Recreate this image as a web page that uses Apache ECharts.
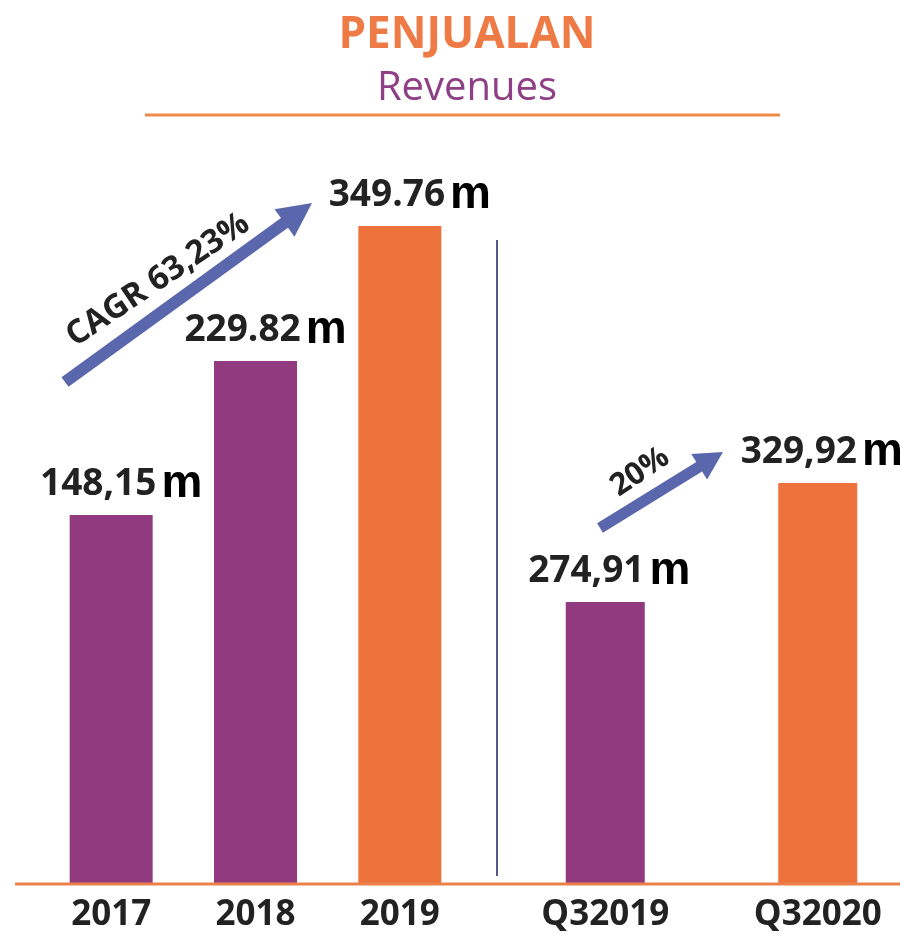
<!DOCTYPE html>
<html>
<head>
<meta charset="utf-8">
<script src="https://cdn.jsdelivr.net/npm/echarts@6/dist/echarts.min.js"></script>
<style>
  html, body { margin: 0; padding: 0; background: #fff; }
  #chart { width: 900px; height: 937px; }
</style>
</head>
<body>
<div id="chart"></div>
<script>
// yearly revenue (left group) and Q3 comparison (right group)
const yearCats = ['2017', '2018', '2019'];
const yearLabels = ['148,15', '229.82', '349.76'];
// bar heights as drawn in the picture (bars are not to scale with labels)
const yearHeights = [369, 523, 658];
const yearColors = ['#913a80', '#913a80', '#ee723c'];

const q3Cats = ['Q32019', 'Q32020'];
const q3Labels = ['274,91', '329,92'];
const q3Heights = [282, 401];
const q3Colors = ['#913a80', '#ee723c'];

const growthNotes = ['CAGR 63,23%', '20%'];

const ORANGE = '#ec8049';
const ARROW = '#5b67ad';

function arrowPoints(x1, y1, x2, y2, w, hw, hl) {
  const dx = x2 - x1, dy = y2 - y1;
  const len = Math.sqrt(dx * dx + dy * dy);
  const ux = dx / len, uy = dy / len;
  const px = -uy, py = ux;
  const bx = x2 - ux * hl, by = y2 - uy * hl;
  return [
    [x1 + px * w / 2, y1 + py * w / 2],
    [bx + px * w / 2, by + py * w / 2],
    [bx + px * hw / 2, by + py * hw / 2],
    [x2, y2],
    [bx - px * hw / 2, by - py * hw / 2],
    [bx - px * w / 2, by - py * w / 2],
    [x1 - px * w / 2, y1 - py * w / 2]
  ];
}

function labelFor(labels, dx) {
  return {
    show: true,
    position: 'top',
    distance: 8,
    offset: [dx, 0],
    formatter: p => '{v|' + labels[p.dataIndex] + '}{m|m}',
    rich: {
      v: { fontFamily: 'Open Sans', fontWeight: 'bold', fontSize: 37, color: '#222' },
      m: { fontFamily: 'Liberation Sans', fontWeight: 'bold', fontSize: 46, color: '#000', padding: [0, 0, 0, 5] }
    }
  };
}

const axisLabelStyle = {
  fontFamily: 'Open Sans',
  fontWeight: 'bold',
  fontSize: 35,
  color: '#222',
  margin: 14
};

const chart = echarts.init(document.getElementById('chart'));

chart.setOption({
  backgroundColor: '#fff',
  animation: false,
  title: {
    text: 'PENJUALAN',
    subtext: 'Revenues',
    left: 462,
    top: 8,
    textAlign: 'center',
    itemGap: 12,
    textStyle: { fontFamily: 'Open Sans', fontWeight: 'bold', fontSize: 44, color: '#ee7a45' },
    subtextStyle: { fontFamily: 'Open Sans', fontWeight: 'normal', fontSize: 40, color: '#8e3f86' }
  },
  grid: [
    { left: 39, width: 433, top: 100, bottom: 53, outerBoundsMode: 'none' },
    { left: 499, width: 425, top: 100, bottom: 53, outerBoundsMode: 'none' }
  ],
  xAxis: [
    {
      gridIndex: 0, type: 'category', data: yearCats,
      axisLine: { show: false },
      axisTick: { show: false },
      axisLabel: axisLabelStyle
    },
    {
      gridIndex: 1, type: 'category', data: q3Cats,
      axisLine: { show: false },
      axisTick: { show: false },
      axisLabel: axisLabelStyle
    }
  ],
  yAxis: [
    { gridIndex: 0, type: 'value', min: 0, max: 784, show: false },
    { gridIndex: 1, type: 'value', min: 0, max: 784, show: false }
  ],
  series: [
    {
      type: 'bar', xAxisIndex: 0, yAxisIndex: 0, barWidth: 83,
      data: yearHeights.map((v, i) => ({ value: v, itemStyle: { color: yearColors[i] } })),
      label: labelFor(yearLabels, 10)
    },
    {
      type: 'bar', xAxisIndex: 1, yAxisIndex: 1, barWidth: 79,
      data: q3Heights.map((v, i) => ({ value: v, itemStyle: { color: q3Colors[i] } })),
      label: labelFor(q3Labels, 4)
    }
  ],
  graphic: [
    // underline of the title
    { type: 'line', shape: { x1: 145, y1: 115, x2: 780, y2: 115 }, style: { stroke: '#f08a4b', lineWidth: 3 } },
    // shared baseline under both groups
    { type: 'line', z: 10, shape: { x1: 15, y1: 884, x2: 900, y2: 884 }, style: { stroke: ORANGE, lineWidth: 3 } },
    // divider between yearly and quarterly groups
    { type: 'line', shape: { x1: 497, y1: 240, x2: 497, y2: 876 }, style: { stroke: '#55598a', lineWidth: 2 } },
    // growth arrows
    { type: 'polygon', shape: { points: arrowPoints(65, 382, 312, 203, 12, 34, 34) }, style: { fill: ARROW } },
    { type: 'polygon', shape: { points: arrowPoints(600, 528, 723, 452, 11, 30, 28) }, style: { fill: ARROW } },
    {
      type: 'text', x: 158, y: 280, rotation: 34 * Math.PI / 180,
      style: { text: growthNotes[0], align: 'center', verticalAlign: 'middle', fontFamily: 'Open Sans', fontWeight: 'bold', fontSize: 33, fill: '#222' }
    },
    {
      type: 'text', x: 640, y: 472, rotation: 34 * Math.PI / 180,
      style: { text: growthNotes[1], align: 'center', verticalAlign: 'middle', fontFamily: 'Open Sans', fontWeight: 'bold', fontSize: 31, fill: '#222' }
    }
  ]
});
</script>
</body>
</html>
